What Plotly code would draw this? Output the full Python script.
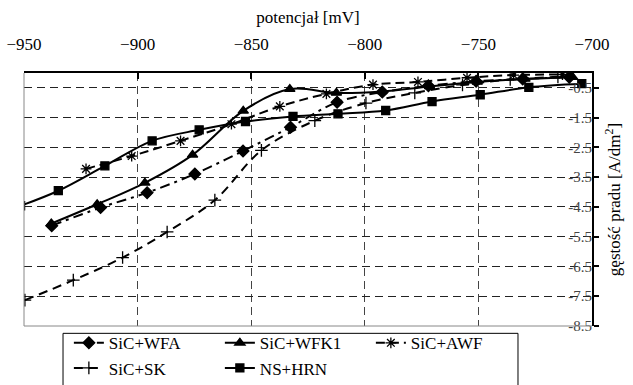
import plotly.graph_objects as go

# ---- data ----
x_wfa = [-937.8, -916.3, -895.8, -874.8, -853.6, -832.7, -812.2, -792.3, -772.0, -751.0, -730.5, -710.0]
y_wfa = [-5.13, -4.52, -4.02, -3.39, -2.62, -1.82, -0.98, -0.64, -0.43, -0.28, -0.20, -0.14]

x_wfk1 = [-938.0, -917.8, -896.8, -875.8, -853.5, -833.0, -812.5, -792.5, -771.5, -750.5, -729.5, -708.5]
y_wfk1 = [-5.06, -4.41, -3.69, -2.75, -1.27, -0.54, -0.67, -0.62, -0.45, -0.30, -0.20, -0.14]

x_awf = [-922.7, -902.6, -881.1, -858.7, -837.4, -816.9, -796.4, -776.6, -755.0, -734.5, -713.0]
y_awf = [-3.22, -2.79, -2.28, -1.72, -1.12, -0.70, -0.39, -0.30, -0.16, -0.07, -0.05]

x_sk = [-949.6, -928.3, -906.6, -887.0, -866.0, -845.5, -822.0, -799.5, -778.0, -757.0, -736.0, -715.0]
y_sk = [-7.63, -6.96, -6.20, -5.34, -4.27, -2.60, -1.60, -1.01, -0.67, -0.40, -0.22, -0.13]

x_hrn = [-951.5, -934.9, -914.4, -893.6, -872.9, -852.5, -831.6, -811.8, -790.8, -770.4, -749.2, -727.8, -704.5]
y_hrn = [-4.46, -3.955, -3.12, -2.28, -1.91, -1.63, -1.46, -1.37, -1.26, -0.96, -0.73, -0.48, -0.36]

x_ticks = [-950, -900, -850, -800, -750, -700]
y_ticks = [-0.5, -1.5, -2.5, -3.5, -4.5, -5.5, -6.5, -7.5, -8.5]
y_ticktext = ["-0.5", "-1.5", "-2.5", "-3.5", "-4.5", "-5.5", "-6.5", "-7.5", "-8.5"]

FONT = "Liberation Serif, Times New Roman, serif"

series = [
    ("SiC+WFA", x_wfa, y_wfa, "10px,5px,3px,5px", "diamond", 9),
    ("SiC+WFK1", x_wfk1, y_wfk1, "solid", "triangle-up", 9),
    ("SiC+AWF", x_awf, y_awf, "9px,5px", "asterisk-open", 9),
    ("SiC+SK", x_sk, y_sk, "9px,6px", "cross-thin-open", 9),
    ("NS+HRN", x_hrn, y_hrn, "solid", "square", 8),
]

fig = go.Figure()
for name, xs, ys, dash, sym, size in series:
    fig.add_trace(go.Scatter(
        x=xs, y=ys, name=name, mode="lines+markers",
        line=dict(color="black", width=2, dash=dash, shape="spline", smoothing=1.0),
        marker=dict(symbol=sym, size=size, color="black",
                    line=dict(color="black", width=1.3)),
    ))

fig.update_layout(
    width=633, height=385,
    margin=dict(l=24, r=41, t=73, b=59, autoexpand=False),
    paper_bgcolor="white", plot_bgcolor="white",
    font=dict(family=FONT, size=17, color="black"),
    showlegend=True,
    legend=dict(
        orientation="h", x=0.079, y=0.003, xanchor="left", yanchor="top",
        borderwidth=0, bgcolor="rgba(0,0,0,0)",
        font=dict(family=FONT, size=17, color="black"),
        entrywidth=106, entrywidthmode="pixels",
    ),
    xaxis=dict(
        range=[-950, -700], side="top", tickvals=x_ticks,
        ticks="inside", ticklen=6, tickwidth=2, tickcolor="black",
        ticklabelstandoff=14,
        showline=True, linewidth=2, linecolor="black",
        showgrid=True, gridcolor="#444", gridwidth=1, griddash="8px,5px",
        zeroline=False,
        tickfont=dict(size=17),
        title=dict(text="potencjał [mV]", font=dict(size=17), standoff=7),
    ),
    yaxis=dict(
        range=[-8.5, 0], side="right", tickvals=y_ticks, ticktext=y_ticktext,
        ticklabelposition="inside", ticklabeloverflow="allow",
        ticks="outside", ticklen=5, tickwidth=2, tickcolor="black",
        showline=True, linewidth=2, linecolor="black",
        showgrid=True, gridcolor="#222", gridwidth=1, griddash="8px,5px",
        zeroline=False,
        tickfont=dict(size=15),
        title=dict(text="gęstość pradu [A/dm<sup>2</sup>]", font=dict(size=17), standoff=17),
    ),
    shapes=[
        dict(type="line", xref="paper", yref="paper", x0=0, x1=0, y0=0, y1=1,
             line=dict(color="#888", width=1)),
        dict(type="line", xref="paper", yref="paper", x0=0, x1=1, y0=0, y1=0,
             line=dict(color="#888", width=1)),
        dict(type="rect", xref="paper", yref="paper", x0=0.0687, x1=0.8697, y0=-0.029, y1=-0.30,
             line=dict(color="black", width=1), fillcolor="rgba(0,0,0,0)"),
    ],
)

fig.write_html("out.html", config={"displayModeBar": False},
               post_script="document.body.style.margin='0';")
